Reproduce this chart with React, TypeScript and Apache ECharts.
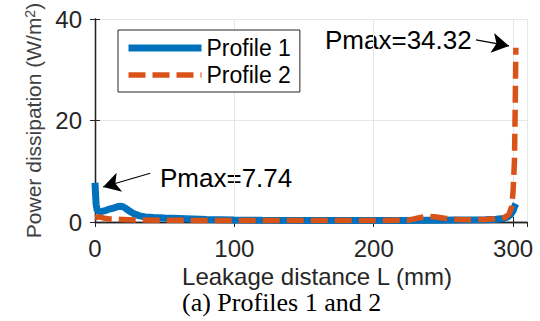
import React, { useEffect, useRef } from "react";
import * as echarts from "echarts";

const profile1X = [0, 0.3, 0.8, 1.5, 3, 5, 8, 11, 14, 16, 18, 20, 22, 25, 28, 32, 36, 42, 50, 60, 70, 80, 100, 120, 150, 180, 200, 220, 240, 260, 280, 288, 293, 296, 298, 300, 301, 302];
const profile1Y = [7.74, 6.0, 3.5, 2.4, 2.0, 2.1, 2.3, 2.6, 2.8, 3.0, 3.1, 3.0, 2.7, 2.1, 1.6, 1.2, 1.0, 0.9, 0.8, 0.7, 0.6, 0.5, 0.4, 0.35, 0.3, 0.3, 0.3, 0.3, 0.35, 0.4, 0.45, 0.55, 0.7, 1.0, 1.4, 2.2, 3.0, 3.6];

const profile2X = [0, 3, 6, 10, 20, 30, 50, 80, 100, 150, 200, 225, 232, 238, 245, 252, 260, 270, 280, 290, 294, 297, 299, 300, 301, 301.5, 302];
const profile2Y = [0.9, 1.0, 0.8, 0.6, 0.5, 0.4, 0.35, 0.3, 0.3, 0.3, 0.3, 0.35, 0.8, 1.1, 1.0, 0.7, 0.5, 0.45, 0.5, 0.7, 0.9, 1.5, 3.0, 6.0, 12.0, 22.0, 34.32];

const seriesNames = ["Profile 1", "Profile 2"];
const xTicks = [0, 100, 200, 300];
const yTicks = [0, 20, 40];
const annot1 = { text: "Pmax=7.74", from: [39.6, 9.6], to: [5.8, 6.9] };
const annot2 = { text: "Pmax=34.32", from: [273.4, 35.9], to: [297.1, 34.7] };
const caption = "(a) Profiles 1 and 2";

const FONT = "'Liberation Sans', Arial, Helvetica, sans-serif";
const AXIS = "#262626";

export default function App() {
  const ref = useRef<HTMLDivElement>(null);
  useEffect(() => {
    if (!ref.current) return;
    const chart = echarts.init(ref.current, undefined, { renderer: "svg" });
    const zip = (xs: number[], ys: number[]) => xs.map((x, i) => [x, ys[i]]);
    const arrowLine = (a: any) => ({
      silent: true,
      animation: false,
      symbol: ["none", "arrow"],
      symbolSize: [15, 17],
      label: { show: false },
      lineStyle: { color: "#000", width: 1.2, type: "solid" },
      emphasis: { disabled: true },
      data: [[{ coord: a.from }, { coord: a.to }]],
    });
    const xMax = 310;
    const commonX = {
      type: "value",
      min: xTicks[0],
      max: xMax,
      interval: xTicks[1] - xTicks[0],
    };
    const commonY = {
      type: "value",
      min: yTicks[0],
      max: yTicks[yTicks.length - 1],
      interval: yTicks[1] - yTicks[0],
    };
    chart.setOption({
      animation: false,
      backgroundColor: "#fff",
      grid: { left: 95, right: 13, top: 19, bottom: 99, containLabel: false, outerBoundsMode: "none" },
      legend: {
        orient: "vertical",
        left: 118,
        top: 30,
        padding: [6, 9, 5, 7],
        itemGap: 3,
        itemWidth: 73,
        itemHeight: 14,
        borderColor: AXIS,
        borderWidth: 1,
        backgroundColor: "#fff",
        data: seriesNames,
        itemStyle: { opacity: 0, borderWidth: 0 },
        lineStyle: { width: "inherit", opacity: 1 },
        textStyle: { fontFamily: FONT, fontSize: 23, color: "#000", lineHeight: 24 },
      },
      xAxis: [
        {
          ...commonX,
          position: "bottom",
          name: "Leakage distance L (mm)",
          nameLocation: "middle",
          nameGap: 38,
          nameTextStyle: { fontFamily: FONT, fontSize: 24, color: AXIS, padding: [0, 0, 0, 12] },
          axisLine: { lineStyle: { color: AXIS, width: 1.3 } },
          axisTick: { inside: true, length: 5, lineStyle: { color: AXIS } },
          axisLabel: { fontFamily: FONT, fontSize: 24, color: AXIS, margin: 14, showMaxLabel: false },
          splitLine: { show: true, lineStyle: { color: "#e6e6e6", width: 1 } },
        },
        {
          ...commonX,
          position: "top",
          axisLine: { lineStyle: { color: AXIS, width: 1.3 } },
          axisTick: { inside: true, length: 5, lineStyle: { color: AXIS } },
          axisLabel: { show: false },
          splitLine: { show: false },
        },
      ],
      yAxis: [
        {
          ...commonY,
          position: "left",
          name: "Power dissipation (W/m{sup|2})",
          nameLocation: "middle",
          nameGap: 51,
          nameRotate: 90,
          nameTextStyle: {
            fontFamily: FONT,
            fontSize: 21,
            color: "#404040",
            rich: { sup: { fontFamily: FONT, fontSize: 14, color: "#404040", verticalAlign: "top" } },
          },
          axisLine: { show: true, lineStyle: { color: AXIS, width: 1.3 } },
          axisTick: { show: true, inside: true, length: 5, lineStyle: { color: AXIS } },
          axisLabel: { fontFamily: FONT, fontSize: 24, color: AXIS, margin: 13 },
          splitLine: { show: true, lineStyle: { color: "#e6e6e6", width: 1 } },
        },
        {
          ...commonY,
          position: "right",
          axisLine: { show: true, lineStyle: { color: AXIS, width: 1.3 } },
          axisTick: { show: true, inside: true, length: 5, lineStyle: { color: AXIS } },
          axisLabel: { show: false },
          splitLine: { show: false },
        },
      ],
      series: [
        {
          name: seriesNames[0],
          type: "line",
          xAxisIndex: 0,
          yAxisIndex: 0,
          data: zip(profile1X, profile1Y),
          showSymbol: false,
          symbol: "none",
          color: "#0072BD",
          lineStyle: { color: "#0072BD", width: 7 },
          markLine: arrowLine(annot1),
          z: 2,
        },
        {
          name: seriesNames[1],
          type: "line",
          xAxisIndex: 0,
          yAxisIndex: 0,
          data: zip(profile2X, profile2Y),
          showSymbol: false,
          symbol: "none",
          color: "#D95319",
          lineStyle: { color: "#D95319", width: 5.5, type: [17, 7] },
          markLine: arrowLine(annot2),
          z: 3,
        },
      ],
      graphic: [
        {
          type: "text",
          left: 160,
          top: 165,
          style: { text: annot1.text, fontFamily: FONT, fontSize: 26, fill: "#000" },
        },
        {
          type: "text",
          left: 325,
          top: 27,
          style: { text: annot2.text, fontFamily: FONT, fontSize: 26, fill: "#000" },
        },
        {
          type: "text",
          left: 182,
          top: 289,
          style: { text: caption, fontFamily: "'Liberation Serif', 'Times New Roman', serif", fontSize: 26, fill: "#000" },
        },
      ],
    });
    return () => chart.dispose();
  }, []);
  return (
    <div
      ref={ref}
      style={{ position: "fixed", left: 0, top: 0, width: 540, height: 321, background: "#fff" }}
    />
  );
}
